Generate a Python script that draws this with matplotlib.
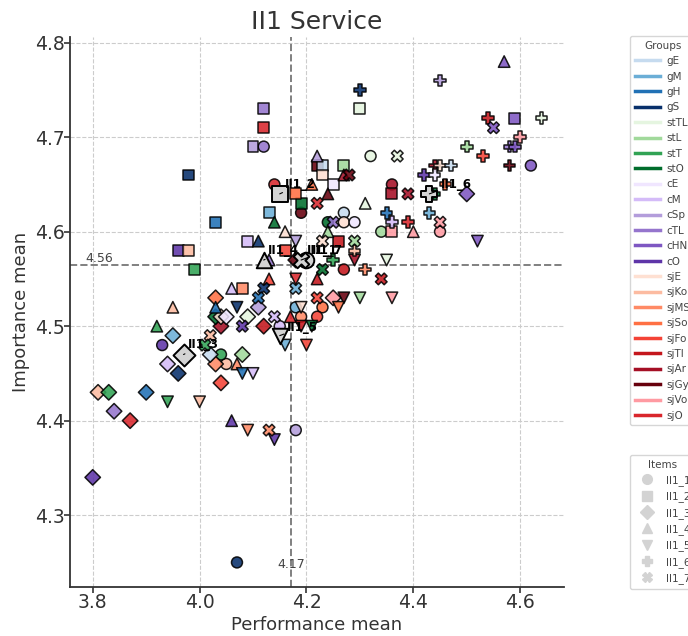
import matplotlib
matplotlib.use('Agg')
import matplotlib.pyplot as plt
from matplotlib.lines import Line2D

groups = ['gE', 'gM', 'gH', 'gS', 'stTL', 'stL', 'stT', 'stO', 'cE', 'cM', 'cSp', 'cTL', 'cHN', 'cO',
          'sjE', 'sjKo', 'sjMS', 'sjSo', 'sjFo', 'sjTI', 'sjAr', 'sjGy', 'sjVo', 'sjO']
group_colors = ['#c6dbef', '#6baed6', '#2171b5', '#08306b', '#e5f5e0', '#a1d99b', '#31a354', '#006d2c',
                '#f0e6ff', '#d4bbf8', '#b39ddb', '#9575cd', '#7e57c2', '#5e35a8',
                '#fee0d2', '#fcbba1', '#ff8a65', '#ff7043', '#f44336', '#c4161c', '#a50f25', '#67000d',
                '#ff9aa2', '#d9262c']
items = ['II1_1', 'II1_2', 'II1_3', 'II1_4', 'II1_5', 'II1_6', 'II1_7']
markers = ['o', 's', 'D', '^', 'v', 'P', 'X']
marker_sizes = [62, 62, 62, 68, 68, 70, 70]

# one group / perf / imp list per item
i1_g = ['sjO', 'cTL', 'sjGy', 'stTL', 'sjAr', 'gE', 'stO', 'sjE', 'cE', 'stL', 'sjTI', 'sjVo', 'cHN', 'cO',
        'sjKo', 'stT', 'cSp', 'gS', 'cM', 'gM', 'sjMS', 'sjSo', 'sjFo']
i1_x = [4.14, 4.12, 4.19, 4.32, 4.36, 4.27, 4.24, 4.27, 4.29, 4.34, 4.27, 4.45, 4.62, 3.93,
        4.05, 4.04, 4.18, 4.07, 4.15, 4.18, 4.19, 4.23, 4.22]
i1_y = [4.65, 4.69, 4.62, 4.68, 4.65, 4.62, 4.61, 4.61, 4.61, 4.60, 4.56, 4.60, 4.67, 4.48,
        4.46, 4.47, 4.39, 4.25, 4.50, 4.52, 4.51, 4.52, 4.51]

i2_g = ['cTL', 'sjO', 'cSp', 'gS', 'gH', 'gM', 'stO', 'sjSo', 'sjGy', 'gE', 'sjE', 'stL', 'cE', 'sjAr',
        'stTL', 'cHN', 'sjVo', 'sjTI', 'sjFo', 'cO', 'sjKo', 'stT', 'sjMS', 'cM']
i2_x = [4.12, 4.12, 4.10, 3.98, 4.03, 4.13, 4.19, 4.18, 4.22, 4.23, 4.23, 4.27, 4.25, 4.36,
        4.30, 4.59, 4.36, 4.26, 4.16, 3.96, 3.98, 3.99, 4.08, 4.09]
i2_y = [4.73, 4.71, 4.69, 4.66, 4.61, 4.62, 4.63, 4.64, 4.67, 4.67, 4.66, 4.67, 4.65, 4.64,
        4.73, 4.72, 4.60, 4.59, 4.58, 4.58, 4.58, 4.56, 4.54, 4.59]

i3_g = ['cHN', 'cO', 'sjKo', 'stT', 'cTL', 'sjO', 'gH', 'gS', 'cM', 'sjFo', 'sjMS', 'gM', 'stL', 'gE',
        'sjAr', 'sjTI', 'stO', 'sjE', 'cE', 'stTL', 'cSp', 'sjSo', 'sjVo', 'sjGy']
i3_x = [4.50, 3.80, 3.81, 3.83, 3.84, 3.87, 3.90, 3.96, 3.94, 4.04, 4.03, 3.95, 4.08, 4.02,
        4.04, 4.12, 4.03, 4.04, 4.05, 4.09, 4.11, 4.03, 4.25, 4.18]
i3_y = [4.64, 4.34, 4.43, 4.43, 4.41, 4.40, 4.43, 4.45, 4.46, 4.44, 4.46, 4.49, 4.47, 4.47,
        4.50, 4.50, 4.51, 4.51, 4.51, 4.51, 4.52, 4.53, 4.53, 4.57]

i4_g = ['cHN', 'cSp', 'sjAr', 'sjGy', 'sjSo', 'stTL', 'sjE', 'gS', 'stO', 'cTL', 'stL', 'sjVo', 'sjFo',
        'sjTI', 'cM', 'gH', 'sjKo', 'stT', 'sjMS', 'cO', 'sjO']
i4_x = [4.57, 4.22, 4.27, 4.24, 4.21, 4.31, 4.16, 4.11, 4.14, 4.13, 4.24, 4.40, 4.13,
        4.22, 4.06, 4.03, 3.95, 3.92, 4.07, 4.06, 4.17]
i4_y = [4.78, 4.68, 4.66, 4.64, 4.65, 4.63, 4.60, 4.59, 4.61, 4.57, 4.60, 4.60, 4.55,
        4.55, 4.54, 4.52, 4.52, 4.50, 4.46, 4.40, 4.51]

i5_g = ['cSp', 'stTL', 'sjAr', 'sjO', 'cHN', 'gS', 'sjGy', 'stL', 'sjVo', 'sjE', 'sjSo', 'gM', 'sjFo',
        'sjTI', 'stO', 'gH', 'cM', 'stT', 'sjKo', 'sjMS', 'cO']
i5_x = [4.18, 4.35, 4.29, 4.18, 4.52, 4.07, 4.27, 4.30, 4.36, 4.19, 4.26, 4.16, 4.20,
        4.19, 4.21, 4.08, 4.10, 3.94, 4.00, 4.09, 4.14]
i5_y = [4.59, 4.57, 4.57, 4.55, 4.59, 4.52, 4.53, 4.53, 4.53, 4.52, 4.52, 4.48, 4.48,
        4.50, 4.50, 4.45, 4.45, 4.42, 4.42, 4.39, 4.38]

i6_g = ['cSp', 'gS', 'sjTI', 'stTL', 'sjVo', 'stL', 'cTL', 'cHN', 'sjFo', 'sjGy', 'sjAr', 'sjE', 'gE',
        'cO', 'cE', 'sjSo', 'stO', 'gH', 'gM', 'cM', 'sjO', 'sjKo', 'stT', 'sjMS']
i6_x = [4.45, 4.30, 4.54, 4.64, 4.60, 4.50, 4.58, 4.59, 4.53, 4.58, 4.44, 4.45, 4.47,
        4.42, 4.44, 4.46, 4.44, 4.35, 4.43, 4.36, 4.39, 4.29, 4.25, 4.31]
i6_y = [4.76, 4.75, 4.72, 4.72, 4.70, 4.69, 4.69, 4.69, 4.68, 4.67, 4.67, 4.67, 4.67,
        4.66, 4.66, 4.65, 4.64, 4.62, 4.62, 4.61, 4.61, 4.58, 4.57, 4.56]

i7_g = ['stTL', 'cHN', 'sjGy', 'sjAr', 'sjO', 'sjVo', 'cTL', 'sjE', 'stL', 'stO', 'sjTI', 'gM', 'gS',
        'gH', 'sjFo', 'cM', 'cO', 'sjKo', 'stT', 'sjMS']
i7_x = [4.37, 4.55, 4.28, 4.39, 4.22, 4.45, 4.25, 4.23, 4.29, 4.23, 4.34, 4.18, 4.12,
        4.11, 4.22, 4.14, 4.08, 4.02, 4.01, 4.13]
i7_y = [4.68, 4.71, 4.66, 4.64, 4.63, 4.61, 4.61, 4.59, 4.59, 4.56, 4.55, 4.54, 4.54,
        4.53, 4.53, 4.51, 4.50, 4.49, 4.48, 4.39]

# item means (big grey markers)
mean_x = [4.20, 4.15, 3.97, 4.12, 4.15, 4.43, 4.19]
mean_y = [4.57, 4.64, 4.47, 4.57, 4.49, 4.64, 4.57]
label_dx = [0, 4, 3, 3, 5, 8, 8]
label_dy = [7, 7, 7, 7, 6, 7, 7]

all_items = [(i1_g, i1_x, i1_y), (i2_g, i2_x, i2_y), (i3_g, i3_x, i3_y), (i4_g, i4_x, i4_y),
             (i5_g, i5_x, i5_y), (i6_g, i6_x, i6_y), (i7_g, i7_x, i7_y)]
color_of = dict(zip(groups, group_colors))

fig = plt.figure(figsize=(6.88, 6.36), dpi=100)
ax = fig.add_axes([70 / 688, 1 - 587 / 636, (564 - 70) / 688, (587 - 37) / 636])

for (g, x, y), m, sz in zip(all_items, markers, marker_sizes):
    ax.scatter(x, y, c=[color_of[k] for k in g], marker=m, s=sz, edgecolors='black',
               linewidths=1.1, alpha=0.88, zorder=3)

for i, m in enumerate(markers):
    ax.scatter(mean_x[i], mean_y[i], c='lightgray', marker=m, s=125, edgecolors='black',
               linewidths=1.4, zorder=4)
    ax.annotate(items[i], (mean_x[i], mean_y[i]), xytext=(label_dx[i], label_dy[i]),
                textcoords='offset points', fontsize=8.5, fontweight='bold', color='black',
                ha='left', va='center', zorder=5,
                arrowprops=dict(arrowstyle='-', color='black', lw=0.8, shrinkA=0, shrinkB=0))

ax.axvline(4.172, color='gray', ls='--', lw=1.4, zorder=2)
ax.axhline(4.565, color='gray', ls='--', lw=1.4, zorder=2)
ax.text(3.786, 4.572, '4.56', fontsize=9, color='#444444', va='center')
ax.text(4.172, 4.248, '4.17', fontsize=9, color='#444444', va='center', ha='center')

ax.set_xlim(3.7575, 4.682)
ax.set_ylim(4.224, 4.806)
ax.set_xticks([3.8, 4.0, 4.2, 4.4, 4.6])
ax.set_yticks([4.3, 4.4, 4.5, 4.6, 4.7, 4.8])
ax.grid(True, ls='--', lw=0.8, color='#cccccc', zorder=0)
ax.set_axisbelow(True)
ax.spines['top'].set_visible(False)
ax.spines['right'].set_visible(False)
ax.spines['left'].set_color('#333333')
ax.spines['bottom'].set_color('#333333')
ax.spines['left'].set_linewidth(1.3)
ax.spines['bottom'].set_linewidth(1.3)
ax.tick_params(labelsize=13.5, colors='#333333', width=1.2, length=4, pad=0)
ax.set_xlabel('Performance mean', fontsize=13, color='#333333', labelpad=3)
ax.set_ylabel('Importance mean', fontsize=13, color='#333333', labelpad=3)
ax.set_title('II1 Service', fontsize=18, color='#333333', pad=6)

group_handles = [Line2D([0], [0], color=c, lw=2.5) for c in group_colors]
leg1 = fig.legend(group_handles, groups, title='Groups', loc='upper left',
                  bbox_to_anchor=(630 / 688, 1 - 36 / 636), bbox_transform=fig.transFigure,
                  borderaxespad=0, fontsize=7.5, title_fontsize=7.5, labelspacing=0.52,
                  handlelength=2.4, handletextpad=0.65, borderpad=0.45, labelcolor='#444444')
leg1.get_title().set_color('#444444')

item_handles = [Line2D([0], [0], color='lightgray', marker=m, ls='', markersize=7) for m in markers]
leg2 = fig.legend(item_handles, items, title='Items', loc='upper left',
                  bbox_to_anchor=(630 / 688, 1 - 455 / 636), bbox_transform=fig.transFigure,
                  borderaxespad=0, fontsize=7.5, title_fontsize=7.5, labelspacing=0.52,
                  handlelength=2.4, handletextpad=0.65, borderpad=0.45, labelcolor='#444444')
leg2.get_title().set_color('#444444')

fig.savefig('out.png', dpi=100)
